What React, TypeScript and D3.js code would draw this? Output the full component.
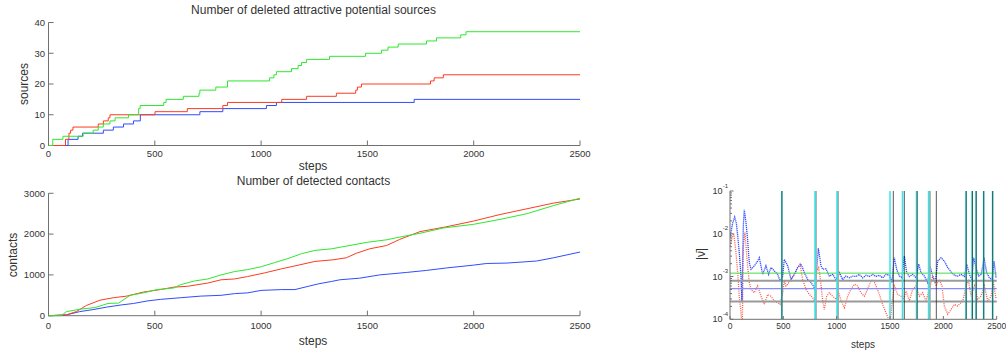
import * as d3 from "d3";

// ---- data: deleted attractive sources (change points, stepwise) ----
const greenDelSteps = [0, 20, 68, 163, 210, 234, 258, 289, 313, 376, 424, 431, 542, 553, 634, 708, 712, 787, 842, 1040, 1060, 1072, 1143, 1174, 1190, 1214, 1322, 1491, 1566, 1597, 1645, 1778, 1825, 1939, 1964];
const greenDelVals = [0, 2, 3, 4, 5, 6, 7, 8, 9, 10, 12, 13, 14, 15, 16, 17, 18, 19, 21, 22, 23, 24, 25, 26, 27, 28, 29, 30, 31, 32, 33, 34, 35, 36, 37];
const redDelSteps = [0, 80, 96, 104, 115, 234, 258, 281, 289, 501, 653, 820, 842, 1097, 1214, 1354, 1445, 1453, 1472, 1797, 1814, 1857];
const redDelVals = [0, 2, 4, 5, 6, 7, 8, 9, 10, 11, 12, 13, 14, 15, 16, 17, 18, 19, 20, 21, 22, 23];
const blueDelSteps = [0, 92, 139, 160, 258, 305, 353, 400, 432, 712, 820, 1025, 1072, 1720];
const blueDelVals = [0, 2, 3, 4, 5, 6, 7, 8, 10, 11, 12, 13, 14, 15];

// ---- data: detected contacts ----
const greenContSteps = [0, 60, 84, 150, 220, 280, 330, 384, 447, 511, 590, 621, 685, 749, 812, 874, 937, 1000, 1063, 1126, 1190, 1253, 1332, 1500, 1590, 1684, 1747, 1857, 2000, 2124, 2250, 2376, 2500];
const greenContVals = [0, 0, 100, 160, 200, 300, 310, 500, 560, 640, 680, 760, 850, 900, 1000, 1080, 1130, 1200, 1300, 1400, 1520, 1600, 1640, 1800, 1860, 1960, 2020, 2150, 2240, 2360, 2500, 2700, 2880];
const redContSteps = [0, 84, 131, 178, 242, 305, 368, 447, 526, 590, 653, 749, 812, 874, 937, 1017, 1097, 1159, 1253, 1338, 1401, 1448, 1511, 1590, 1652, 1747, 1872, 2000, 2124, 2250, 2376, 2500];
const redContVals = [0, 20, 100, 250, 380, 440, 480, 580, 640, 700, 720, 800, 880, 900, 960, 1050, 1150, 1220, 1330, 1370, 1420, 1530, 1640, 1720, 1870, 2060, 2180, 2320, 2480, 2620, 2760, 2860];
const blueContSteps = [0, 84, 147, 210, 273, 337, 400, 463, 526, 621, 716, 812, 874, 937, 1000, 1097, 1159, 1222, 1269, 1332, 1370, 1464, 1558, 1684, 1778, 1872, 2000, 2061, 2156, 2296, 2376, 2500];
const blueContVals = [0, 20, 100, 150, 210, 260, 300, 360, 400, 440, 480, 500, 540, 560, 620, 640, 640, 720, 780, 840, 880, 920, 1000, 1060, 1110, 1170, 1240, 1280, 1290, 1340, 1420, 1560];

// ---- data: |nu| (log10 of value) ----
const blueNuSteps = [0, 25, 44, 60, 72, 87, 103, 112, 125, 134, 150, 165, 181, 197, 228, 259, 275, 306, 337, 362, 384, 416, 447, 469, 494, 509, 541, 572, 603, 634, 666, 697, 728, 759, 781, 797, 806, 828, 853, 869, 900, 931, 962, 994, 1025, 1056, 1087, 1119, 1150, 1181, 1212, 1244, 1275, 1306, 1337, 1369, 1400, 1431, 1462, 1494, 1518, 1540, 1562, 1587, 1612, 1634, 1656, 1681, 1712, 1744, 1769, 1791, 1822, 1853, 1875, 1900, 1925, 1947, 1978, 2009, 2041, 2072, 2103, 2134, 2166, 2197, 2219, 2244, 2266, 2284, 2306, 2331, 2356, 2381, 2406, 2431, 2456, 2475, 2494];
const blueNuLog10 = [-2.08, -1.75, -1.61, -1.76, -2.05, -2.44, -2.99, -3.6, -1.8, -1.44, -1.74, -2.13, -2.68, -2.83, -2.75, -2.64, -2.56, -2.95, -2.75, -2.95, -2.79, -2.87, -2.95, -3.1, -2.99, -2.6, -2.75, -3.07, -2.95, -2.79, -2.71, -2.91, -3.07, -3.14, -3.22, -3.3, -3.03, -2.34, -2.75, -2.83, -2.82, -2.99, -2.95, -3.07, -2.91, -3.07, -2.99, -3.03, -2.99, -3.0, -2.95, -3.03, -2.97, -3.0, -2.95, -3.0, -2.97, -3.03, -2.95, -2.97, -3.14, -2.56, -2.83, -2.99, -3.03, -2.52, -2.91, -3.0, -2.95, -3.03, -2.71, -2.91, -2.99, -3.14, -2.75, -2.99, -3.14, -2.64, -2.56, -2.64, -2.79, -2.89, -2.97, -2.99, -2.95, -3.0, -2.71, -2.95, -3.07, -2.56, -2.79, -2.99, -2.95, -2.56, -2.91, -3.03, -3.07, -2.64, -3.03];
const redNuSteps = [0, 19, 35, 56, 72, 87, 103, 115, 125, 140, 150, 165, 181, 197, 228, 259, 291, 322, 353, 384, 416, 447, 469, 494, 509, 525, 541, 572, 603, 634, 656, 681, 712, 744, 775, 791, 812, 831, 844, 869, 884, 906, 931, 962, 994, 1019, 1041, 1072, 1103, 1134, 1166, 1197, 1228, 1259, 1290, 1322, 1344, 1369, 1400, 1431, 1462, 1487, 1500, 1520, 1540, 1572, 1603, 1625, 1650, 1681, 1712, 1744, 1775, 1806, 1837, 1869, 1900, 1931, 1962, 1987, 2009, 2041, 2072, 2103, 2134, 2166, 2187, 2212, 2237, 2259, 2291, 2322, 2353, 2384, 2416, 2447, 2469, 2494];
const redNuLog10 = [-2.28, -2.1, -1.99, -2.44, -2.91, -3.46, -3.85, -4.2, -2.3, -1.97, -2.29, -2.75, -3.14, -3.3, -3.38, -3.22, -3.46, -3.65, -3.42, -3.46, -3.57, -3.61, -3.65, -3.38, -3.1, -3.22, -3.18, -3.07, -2.95, -2.79, -2.71, -3.07, -3.3, -3.42, -3.49, -3.57, -2.87, -2.79, -2.99, -3.57, -3.77, -3.46, -3.38, -3.46, -3.53, -3.38, -3.57, -3.73, -3.46, -3.3, -3.18, -3.22, -3.38, -3.46, -3.3, -3.1, -3.08, -3.22, -3.42, -3.65, -3.85, -4.0, -4.1, -3.6, -3.22, -3.42, -3.46, -3.53, -3.34, -3.57, -3.3, -3.22, -3.46, -3.38, -3.57, -3.3, -2.99, -3.22, -3.07, -3.22, -3.69, -3.88, -3.77, -3.65, -3.69, -3.61, -3.53, -3.22, -3.1, -3.46, -3.22, -3.53, -3.46, -3.22, -3.57, -3.46, -3.14, -3.53];

// reference levels and event markers
const greenLevel = 1.2e-3;
const grayLevels = [8e-4, 2.6e-4];
const blueLevel = 5.2e-4;
const cyanSteps = [485, 797, 1003, 1500, 1617, 1748, 1861, 2212, 2269, 2306, 2377, 2461];
const blackSteps = [487, 1531, 1634, 1755, 1934, 2214, 2272, 2308, 2379, 2463];
const graySteps = [805, 1012, 1873];

const stepTicks = [0, 500, 1000, 1500, 2000, 2500];
const sourceTicks = [0, 10, 20, 30, 40];
const contactTicks = [0, 1000, 2000, 3000];
const nuTicks = [1e-4, 1e-3, 1e-2, 1e-1];
const nuExp = ["-4", "-3", "-2", "-1"];

const GREEN = "#2ee82e";
const RED = "#ff3b1f";
const BLUE = "#2f4cff";
const AXIS = "#707070";
const TEXT = "#333";

function zip(a: number[], b: number[]): [number, number][] {
  return a.map((s, i) => [s, b[i]]);
}

export default function App() {
  const xL = d3.scaleLinear().domain([0, 2500]).range([48.5, 580]);
  const yTop = d3.scaleLinear().domain([0, 40]).range([145.5, 22.5]);
  const yBot = d3.scaleLinear().domain([0, 3000]).range([315.7, 193.3]);
  const xR = d3.scaleLinear().domain([0, 2500]).range([730, 996.7]);
  const yR = d3.scaleLog().domain([1e-4, 1e-1]).range([319.3, 191]);

  const stepLine = d3.line<[number, number]>()
    .x((d) => xL(d[0]))
    .y((d) => yTop(d[1]))
    .curve(d3.curveStepAfter);
  const stepPath = (s: number[], v: number[]) => {
    const pts = zip(s, v);
    pts.push([2500, v[v.length - 1]]);
    return stepLine(pts) || "";
  };

  const contLine = d3.line<[number, number]>()
    .x((d) => xL(d[0]))
    .y((d) => yBot(d[1]));

  const nuLine = d3.line<[number, number]>()
    .x((d) => xR(d[0]))
    .y((d) => yR(Math.pow(10, d[1])));

  const leftAxes = (y: d3.ScaleLinear<number, number>, ticks: number[], top: number, bottom: number, xLabelY: number) => (
    <g>
      <line x1={48.5} x2={48.5} y1={top} y2={bottom} stroke={AXIS} />
      <line x1={48.5} x2={580} y1={bottom} y2={bottom} stroke={AXIS} />
      {ticks.map((t) => (
        <g key={"y" + t}>
          <line x1={48.5} x2={53.5} y1={y(t)} y2={y(t)} stroke={AXIS} />
          <text x={45} y={y(t)} dy="0.35em" textAnchor="end" fontSize={9.5} fill={TEXT}>{t}</text>
        </g>
      ))}
      {stepTicks.map((t) => (
        <g key={"x" + t}>
          <line x1={xL(t)} x2={xL(t)} y1={bottom} y2={bottom - 5} stroke={AXIS} />
          <text x={xL(t)} y={xLabelY} dy="0.35em" textAnchor="middle" fontSize={9.5} fill={TEXT}>{t}</text>
        </g>
      ))}
    </g>
  );

  const minorTicks: number[] = [];
  for (let e = -4; e < -1; e++) {
    for (let m = 2; m < 10; m++) minorTicks.push(m * Math.pow(10, e));
  }

  return (
    <svg width={1006} height={356} style={{ position: "absolute", left: 0, top: 0 }}
      fontFamily="'Liberation Sans', Arial, sans-serif">
      <rect width={1006} height={356} fill="#fff" />

      {/* top: deleted sources */}
      <text x={313.5} y={10} dy="0.35em" textAnchor="middle" fontSize={12} fill={TEXT}>Number of deleted attractive potential sources</text>
      {leftAxes(yTop, sourceTicks, 22.5, 145.5, 154)}
      <text x={313} y={166} dy="0.35em" textAnchor="middle" fontSize={12} fill={TEXT}>steps</text>
      <text transform="translate(24,84) rotate(-90)" dy="0.35em" textAnchor="middle" fontSize={12} fill={TEXT}>sources</text>
      <path d={stepPath(blueDelSteps, blueDelVals)} fill="none" stroke={BLUE} />
      <path d={stepPath(redDelSteps, redDelVals)} fill="none" stroke={RED} />
      <path d={stepPath(greenDelSteps, greenDelVals)} fill="none" stroke={GREEN} />

      {/* bottom: contacts */}
      <text x={313.5} y={181} dy="0.35em" textAnchor="middle" fontSize={12} fill={TEXT}>Number of detected contacts</text>
      {leftAxes(yBot, contactTicks, 193.3, 315.7, 325.7)}
      <text x={313} y={341} dy="0.35em" textAnchor="middle" fontSize={12} fill={TEXT}>steps</text>
      <text transform="translate(13,255) rotate(-90)" dy="0.35em" textAnchor="middle" fontSize={12} fill={TEXT}>contacts</text>
      <path d={contLine(zip(blueContSteps, blueContVals)) || ""} fill="none" stroke={BLUE} />
      <path d={contLine(zip(redContSteps, redContVals)) || ""} fill="none" stroke={RED} />
      <path d={contLine(zip(greenContSteps, greenContVals)) || ""} fill="none" stroke={GREEN} />

      {/* right: |nu| log plot */}
      <defs>
        <clipPath id="clipR">
          <rect x={730} y={191} width={267} height={128.3} />
        </clipPath>
      </defs>
      <g clipPath="url(#clipR)">
        <path d={nuLine(zip(redNuSteps, redNuLog10)) || ""} fill="none" stroke={RED} strokeWidth={1.3} strokeDasharray="1 1.2" opacity={0.85} />
        <path d={nuLine(zip(blueNuSteps, blueNuLog10)) || ""} fill="none" stroke={BLUE} strokeWidth={1.3} strokeDasharray="1.2 0.8" />
        <line x1={730} x2={996.7} y1={yR(greenLevel)} y2={yR(greenLevel)} stroke="#44dd44" />
        {grayLevels.map((v) => (
          <line key={"g" + v} x1={730} x2={996.7} y1={yR(v)} y2={yR(v)} stroke="#9a9a9a" strokeWidth={2} />
        ))}
        <line x1={730} x2={996.7} y1={yR(blueLevel)} y2={yR(blueLevel)} stroke="#8a8aff" strokeWidth={1.2} />
        {graySteps.map((s) => (
          <line key={"gs" + s} x1={xR(s)} x2={xR(s)} y1={191} y2={319.3} stroke="#a8a8a8" strokeWidth={2} />
        ))}
        {cyanSteps.map((s) => (
          <line key={"c" + s} x1={xR(s)} x2={xR(s)} y1={191} y2={319.3} stroke="#33e6e6" strokeWidth={1.5} />
        ))}
        {blackSteps.map((s) => (
          <line key={"b" + s} x1={xR(s)} x2={xR(s)} y1={191} y2={319.3} stroke="#111" strokeWidth={1} opacity={0.7} />
        ))}
      </g>
      <line x1={730} x2={730} y1={191} y2={319.3} stroke={AXIS} />
      <line x1={730} x2={996.7} y1={319.3} y2={319.3} stroke={AXIS} />
      {minorTicks.map((t) => (
        <line key={"m" + t} x1={730} x2={732} y1={yR(t)} y2={yR(t)} stroke={AXIS} />
      ))}
      {nuTicks.map((t, i) => (
        <g key={"ny" + t}>
          <line x1={730} x2={733.5} y1={yR(t)} y2={yR(t)} stroke={AXIS} />
          <text x={722.5} y={yR(t)} dy="0.35em" textAnchor="end" fontSize={9} fill={TEXT}>10</text>
          <text x={722.8} y={yR(t) - 3.5} textAnchor="start" fontSize={6} fill={TEXT}>{nuExp[i]}</text>
        </g>
      ))}
      {stepTicks.map((t) => (
        <g key={"nx" + t}>
          <line x1={xR(t)} x2={xR(t)} y1={319.3} y2={316} stroke={AXIS} />
          <text x={xR(t)} y={325.7} dy="0.35em" textAnchor="middle" fontSize={8.5} fill={TEXT}>{t}</text>
        </g>
      ))}
      <text x={863} y={344} dy="0.35em" textAnchor="middle" fontSize={10} fill={TEXT}>steps</text>
      <text transform="translate(701,254) rotate(-90)" dy="0.35em" textAnchor="middle" fontSize={12} fill={TEXT}>|ν̄|</text>
    </svg>
  );
}
